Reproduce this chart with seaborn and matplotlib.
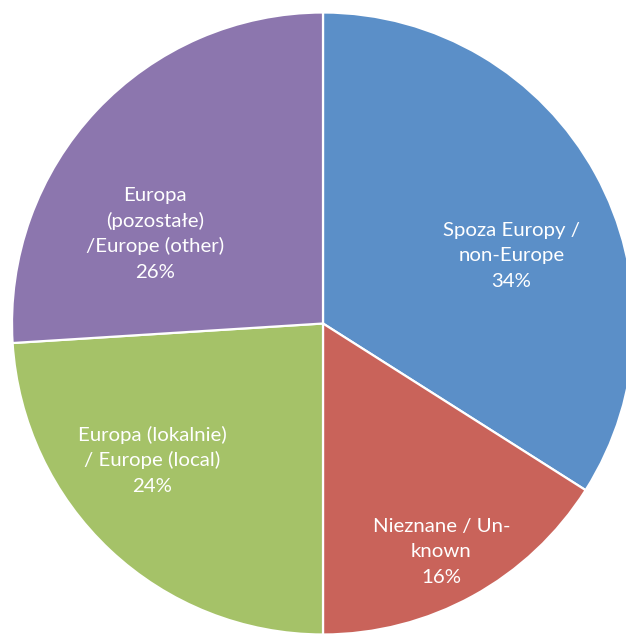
import matplotlib
matplotlib.use("Agg")
import matplotlib.pyplot as plt
import seaborn as sns
import numpy as np

categories = [
    "Spoza Europy /\nnon-Europe",
    "Nieznane / Un-\nknown",
    "Europa (lokalnie)\n/ Europe (local)",
    "Europa\n(pozostałe)\n/Europe (other)",
]
shares = [34, 16, 24, 26]
colors = ["#5B8FC8", "#C9635A", "#A5C268", "#8C76AE"]

# label anchors (middle baseline of each block) in polar form around the pie
# centre: fraction of radius and angle in degrees
label_dist = [0.638, 0.842, 0.716, 0.603]
label_angle = [18.3, -63.1, -140.2, 153.4]
line_pitch = 25.5

sns.set_theme(style="white")
plt.rcParams["font.family"] = ["Lato", "DejaVu Sans"]

W, H = 626, 635
fig = plt.figure(figsize=(W / 100, H / 100), dpi=100)
ax = fig.add_axes([0, 0, 1, 1])

cx, cy, r = 323, H - 323.5, 311
wedges, _ = ax.pie(
    shares,
    colors=colors,
    startangle=90,
    counterclock=False,
    center=(cx, cy),
    radius=r,
    frame=True,
    wedgeprops=dict(edgecolor="white", linewidth=1.6),
)
ax.set_xlim(0, W)
ax.set_ylim(0, H)
ax.set_aspect("equal")
ax.axis("off")

for lab, s, d, a in zip(categories, shares, label_dist, label_angle):
    t = np.deg2rad(a)
    x = cx + d * r * np.cos(t)
    y_mid = cy + d * r * np.sin(t)
    lines = lab.split("\n") + [f"{s}%"]
    n = len(lines)
    for k, line in enumerate(lines):
        y = y_mid + ((n - 1) / 2 - k) * line_pitch
        ax.text(x, y, line, ha="center", va="baseline", color="white",
                fontsize=14.7)

fig.savefig("out.png", dpi=100)
